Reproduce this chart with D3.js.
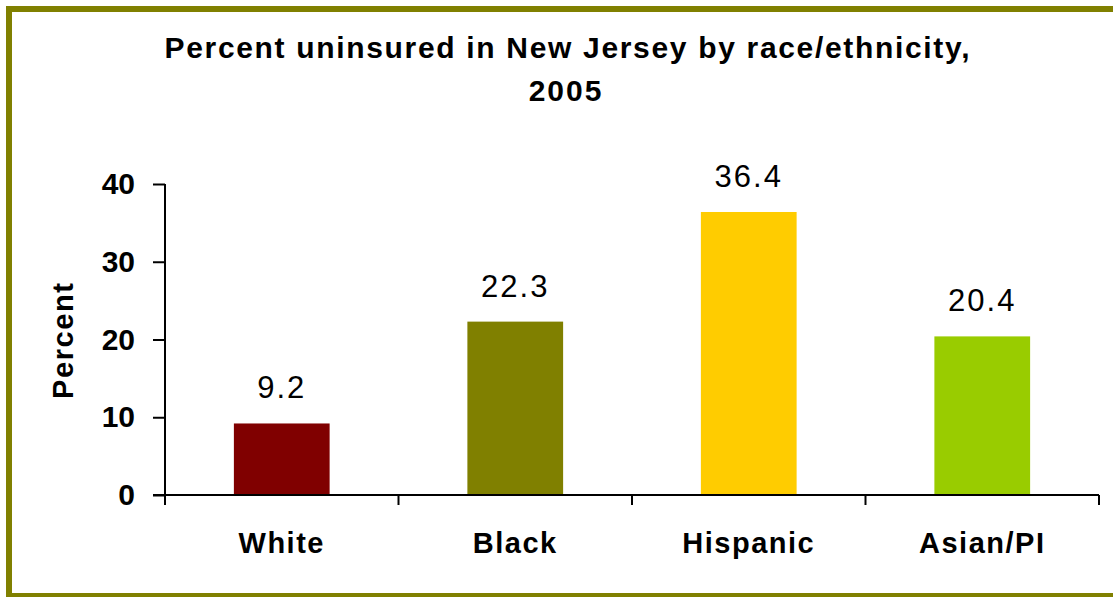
<!DOCTYPE html>
<html><head><meta charset="utf-8">
<script src="https://cdn.jsdelivr.net/npm/d3@7/dist/d3.min.js"></script>
<style>html,body{margin:0;background:#fff;overflow:hidden;} svg{display:block;font-family:"Liberation Sans",Arial,sans-serif;}</style>
</head><body>
<svg id="c" width="1113" height="597"></svg>
<script>
const categories = ["White", "Black", "Hispanic", "Asian/PI"];
const values = [9.2, 22.3, 36.4, 20.4];
const colors = ["#800000", "#808000", "#FFCC00", "#99CC00"];
const yTicks = [0, 10, 20, 30, 40];
const titleLines = ["Percent uninsured in New Jersey by race/ethnicity,", "2005"];
const yTitle = "Percent";

(function () {
const svg = d3.select("#c");
// frame: top, left and bottom edges only (right edge lies outside the picture)
const frame = svg.append("g").attr("stroke", "#808000").attr("stroke-width", 6).attr("fill", "none");
frame.append("path").attr("d", "M1113,9 H9 V597");
frame.append("path").attr("d", "M9,596 H1113");

const pLeft = 165, pRight = 1099, pTop = 184, pBottom = 495;
const x = d3.scaleBand().domain(categories).range([pLeft, pRight]).paddingInner(0.59).paddingOuter(0.295);
const y = d3.scaleLinear().domain([0, 40]).range([pBottom, pTop]);

// bars
svg.selectAll("rect.bar").data(values).join("rect").attr("class", "bar")
  .attr("x", (d, i) => x(categories[i])).attr("width", x.bandwidth())
  .attr("y", d => y(d)).attr("height", d => y(0) - y(d))
  .attr("fill", (d, i) => colors[i]);

// y axis
const yAxis = svg.append("g").attr("transform", `translate(${pLeft},0)`)
  .call(d3.axisLeft(y).tickValues(yTicks).tickSize(12).tickPadding(18).tickSizeOuter(0));
yAxis.select(".domain").remove();
yAxis.append("line").attr("x1", 0).attr("x2", 0).attr("y1", pTop).attr("y2", pBottom + 10).attr("stroke", "#000").attr("stroke-width", 2);
yAxis.selectAll(".tick line").attr("stroke", "#000").attr("stroke-width", 2);
yAxis.selectAll(".tick text").attr("font-size", 30).attr("font-weight", "bold").attr("fill", "#000")
  .attr("font-family", "Liberation Sans, Arial, sans-serif");

// x axis line and band boundary ticks
const xg = svg.append("g");
xg.append("line").attr("x1", pLeft - 12).attr("x2", pRight).attr("y1", pBottom).attr("y2", pBottom).attr("stroke", "#000").attr("stroke-width", 2);
const edges = [pLeft].concat(categories.map(c => x(c) + x.bandwidth() / 2 + x.step() / 2));
xg.selectAll("line.t").data(edges).join("line").attr("class", "t")
  .attr("x1", d => d).attr("x2", d => d).attr("y1", pBottom).attr("y2", pBottom + 10)
  .attr("stroke", "#000").attr("stroke-width", 2);

// category labels
svg.selectAll("text.cat").data(categories).join("text").attr("class", "cat")
  .attr("x", d => x(d) + x.bandwidth() / 2).attr("y", 553)
  .attr("text-anchor", "middle").attr("font-size", 29).attr("font-weight", "bold")
  .attr("letter-spacing", 1.5).text(d => d);

// value labels
svg.selectAll("text.val").data(values).join("text").attr("class", "val")
  .attr("x", (d, i) => x(categories[i]) + x.bandwidth() / 2).attr("y", d => y(d) - 25)
  .attr("text-anchor", "middle").attr("font-size", 31).attr("letter-spacing", 2).text(d => d.toFixed(1));

// title
svg.append("text").attr("x", 567).attr("y", 58).attr("text-anchor", "middle")
  .attr("font-size", 30).attr("font-weight", "bold")
  .attr("textLength", 805).attr("lengthAdjust", "spacing").text(titleLines[0]);
svg.append("text").attr("x", 566).attr("y", 101).attr("text-anchor", "middle")
  .attr("font-size", 30).attr("font-weight", "bold").attr("letter-spacing", 2).text(titleLines[1]);

// y title
svg.append("text").attr("transform", "translate(73,341) rotate(-90)")
  .attr("text-anchor", "middle").attr("font-size", 29).attr("font-weight", "bold")
  .attr("textLength", 116).attr("lengthAdjust", "spacing").text(yTitle);
})();
</script>
</body></html>
